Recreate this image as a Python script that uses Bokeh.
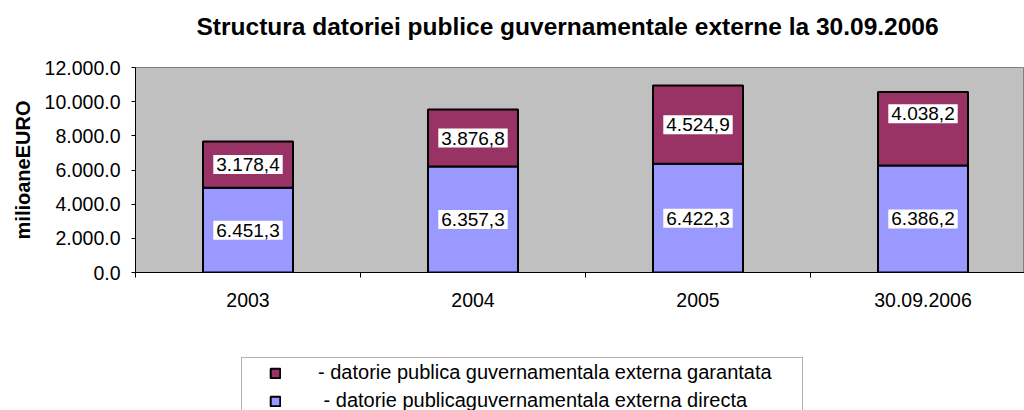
from bokeh.plotting import figure
from bokeh.layouts import column
from bokeh.models import (ColumnDataSource, Range1d, FixedTicker, Legend, LegendItem, BoxAnnotation)
from bokeh.core.properties import value
from bokeh.embed import file_html
from bokeh.resources import INLINE

# ---- data ----
categories = ["2003", "2004", "2005", "30.09.2006"]
directa = [4955, 6205, 6360, 6270]          # bottom segment heights (as drawn)
garantata = [2720, 3330, 4580, 4300]        # top segment heights (as drawn)
directa_labels = ["6.451,3", "6.357,3", "6.422,3", "6.386,2"]
garantata_labels = ["3.178,4", "3.876,8", "4.524,9", "4.038,2"]
y_ticks = [0, 2000, 4000, 6000, 8000, 10000, 12000]
y_tick_labels = ["0.0", "2.000.0", "4.000.0", "6.000.0", "8.000.0", "10.000.0", "12.000.0"]
series_names = ["- datorie publica guvernamentala externa garantata",
                "\u00a0- datorie publicaguvernamentala externa directa"]
title_text = "Structura datoriei publice guvernamentale externe la 30.09.2006"
y_title = "milioaneEURO"
label_nudge = [0, 0, 0, 880]                # manual raise of the top label (data units)

FONT = "Liberation Sans"
COLORS = ["#9999FF", "#993366"]
x = list(range(1, len(categories) + 1))

src = ColumnDataSource(dict(
    x=x, directa=directa, garantata=garantata,
    dir_lab=directa_labels, gar_lab=garantata_labels,
    dir_y=[d / 2 for d in directa],
    gar_y=[d + g / 2 + n for d, g, n in zip(directa, garantata, label_nudge)],
))

# ---- title strip ----
p0 = figure(width=1024, height=50, output_backend="svg", toolbar_location=None,
            x_axis_type=None, y_axis_type=None,
            x_range=Range1d(0, 1), y_range=Range1d(0, 1),
            min_border_left=0, min_border_right=0, min_border_top=0, min_border_bottom=0)
p0.outline_line_color = None
p0.xgrid.visible = False
p0.ygrid.visible = False
p0.background_fill_color = "white"
p0.border_fill_color = "white"
p0.title.text = title_text
p0.title.align = "left"
p0.title.offset = 61
p0.title.text_font = FONT
p0.title.text_font_size = "24.5px"
p0.title.text_font_style = "bold"
p0.title.text_color = "black"
p0.title.standoff = 20

# ---- main chart ----
p = figure(width=1024, height=280, output_backend="svg", toolbar_location=None,
           x_range=Range1d(0.5, 0.5 + 889 / 225), y_range=Range1d(0, 12000),
           min_border_left=135, min_border_right=0, min_border_top=17,
           min_border_bottom=58)

p.border_fill_color = "white"
p.background_fill_color = "#C0C0C0"
p.outline_line_color = "#808080"
p.xgrid.visible = False
p.ygrid.visible = False

p.vbar_stack(["directa", "garantata"], x="x", width=0.4, source=src,
             fill_color=COLORS, line_color="black", line_width=2)

for col_y, col_lab in (("dir_y", "dir_lab"), ("gar_y", "gar_lab")):
    p.text(x="x", y=col_y, text=col_lab, source=src,
           text_font=value(FONT), text_font_size="19px", text_color="black",
           text_align="center", text_baseline="middle",
           background_fill_color="white", padding=3)

xa = p.xaxis[0]
xa.ticker = FixedTicker(ticks=x, minor_ticks=[0.5 + i for i in range(len(categories) + 1)])
xa.major_label_overrides = {i: c for i, c in zip(x, categories)}
xa.major_tick_out = 0
xa.major_tick_in = 0
xa.minor_tick_out = 5
xa.minor_tick_in = 0
xa.axis_line_color = "black"
xa.minor_tick_line_color = "black"
xa.major_label_text_font = FONT
xa.major_label_text_font_size = "19.5px"
xa.major_label_text_color = "black"
xa.major_label_standoff = 15

ya = p.yaxis[0]
ya.ticker = FixedTicker(ticks=y_ticks, minor_ticks=[])
ya.major_label_overrides = {t: l for t, l in zip(y_ticks, y_tick_labels)}
ya.major_tick_out = 4
ya.major_tick_in = 0
ya.axis_line_color = "black"
ya.major_tick_line_color = "black"
ya.major_label_text_font = FONT
ya.major_label_text_font_size = "19.5px"
ya.major_label_text_color = "black"
ya.major_label_standoff = 11
ya.axis_label = y_title
ya.axis_label_text_font = FONT
ya.axis_label_text_font_size = "20px"
ya.axis_label_text_font_style = "bold"
ya.axis_label_text_color = "black"
ya.axis_label_standoff = 8

# ---- legend strip ----
p2 = figure(width=1024, height=80, output_backend="svg", toolbar_location=None,
            x_axis_type=None, y_axis_type=None,
            x_range=Range1d(0, 1), y_range=Range1d(0, 1),
            min_border_left=0, min_border_right=0, min_border_top=0, min_border_bottom=0)
p2.outline_line_color = None
p2.xgrid.visible = False
p2.ygrid.visible = False
p2.background_fill_color = "white"
p2.border_fill_color = "white"
lr = p2.vbar_stack(["directa", "garantata"], x="x", width=0.4, source=src,
                   fill_color=COLORS, line_color="black", line_width=2)
for r in lr:
    r.visible = False

# legend frame (screen units, relative to the strip's frame, y measured upward)
p2.add_layout(BoxAnnotation(left=106, right=667, top=53, bottom=-20,
                            left_units="screen", right_units="screen",
                            top_units="screen", bottom_units="screen",
                            fill_alpha=0, line_color="black", line_width=1))

legend = Legend(items=[
    LegendItem(label=series_names[0], renderers=[lr[1]]),
    LegendItem(label=series_names[1], renderers=[lr[0]]),
], location=(134, -2))
legend.click_policy = "none"
legend.border_line_color = None
legend.background_fill_alpha = 0
legend.padding = 0
legend.margin = 0
legend.spacing = 5
legend.glyph_width = 12
legend.glyph_height = 12
legend.label_height = 23
legend.label_standoff = 37
legend.label_text_font = FONT
legend.label_text_font_size = "20px"
legend.label_text_color = "black"
p2.add_layout(legend, "center")

layout = column(p0, p, p2, spacing=0)
open("out.html", "w").write(file_html(layout, INLINE))
